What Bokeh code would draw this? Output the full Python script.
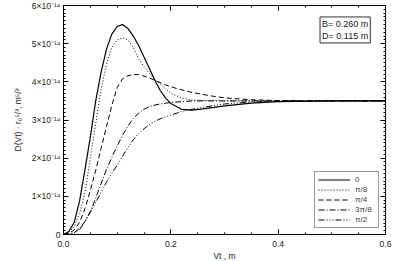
from bokeh.plotting import figure
from bokeh.models import (Range1d, FixedTicker, LinearAxis, NumeralTickFormatter,
                          Label, Legend, CustomLabelingPolicy)
from bokeh.embed import file_html
from bokeh.resources import INLINE

# Data (D values in units of 1e-14 m^(5/3))
vt = [0.00, 0.01, 0.02, 0.03, 0.04, 0.05, 0.06, 0.07, 0.08, 0.09, 0.10,
      0.11, 0.12, 0.13, 0.14, 0.15, 0.16, 0.17, 0.18, 0.19, 0.20,
      0.22, 0.24, 0.26, 0.28, 0.30, 0.35, 0.40, 0.50, 0.60]
d_0 = [0.00, 0.08, 0.32, 0.88, 1.70, 2.55, 3.50, 4.25, 4.85, 5.25, 5.45,
       5.50, 5.40, 5.20, 4.95, 4.65, 4.35, 4.05, 3.78, 3.58, 3.43,
       3.28, 3.26, 3.29, 3.33, 3.37, 3.44, 3.48, 3.50, 3.50]
d_pi8 = [0.00, 0.05, 0.22, 0.55, 1.10, 2.00, 2.90, 3.80, 4.45, 4.90, 5.10,
         5.15, 5.10, 4.90, 4.60, 4.40, 4.22, 4.07, 3.95, 3.82, 3.70,
         3.58, 3.52, 3.51, 3.51, 3.50, 3.50, 3.50, 3.50, 3.50]
d_pi4 = [0.00, 0.03, 0.12, 0.32, 0.68, 1.15, 1.68, 2.25, 2.82, 3.38, 3.85,
         4.08, 4.16, 4.19, 4.19, 4.15, 4.10, 4.04, 3.98, 3.92, 3.87,
         3.79, 3.72, 3.67, 3.62, 3.58, 3.53, 3.51, 3.50, 3.50]
d_3pi8 = [0.00, 0.01, 0.05, 0.16, 0.34, 0.60, 0.95, 1.33, 1.70, 2.02, 2.32,
          2.60, 2.84, 3.04, 3.18, 3.28, 3.35, 3.39, 3.42, 3.44, 3.46,
          3.48, 3.50, 3.50, 3.50, 3.50, 3.50, 3.50, 3.50, 3.50]
d_pi2 = [0.00, 0.00, 0.04, 0.13, 0.33, 0.58, 0.84, 1.10, 1.37, 1.60, 1.82,
         2.05, 2.28, 2.48, 2.65, 2.77, 2.88, 2.96, 3.03, 3.08, 3.13,
         3.22, 3.28, 3.33, 3.38, 3.42, 3.47, 3.49, 3.50, 3.50]

series_labels = ["0", "π/8", "π/4", "3π/8", "π/2"]
x_ticks = [0.0, 0.2, 0.4, 0.6]
y_ticks = [0, 1, 2, 3, 4, 5, 6]
y_tick_labels = ["0", "1×10⁻¹⁴", "2×10⁻¹⁴", "3×10⁻¹⁴", "4×10⁻¹⁴", "5×10⁻¹⁴", "6×10⁻¹⁴"]
info_text = "B= 0.260 m\nD= 0.115 m"

FONT = "Liberation Sans"

p = figure(frame_width=322, frame_height=229, output_backend="svg",
           toolbar_location=None, x_range=Range1d(0, 0.6), y_range=Range1d(0, 6),
           min_border_left=63, min_border_right=25, min_border_top=5,
           min_border_bottom=27)
p.background_fill_color = "white"
p.border_fill_color = "white"
p.outline_line_color = "black"
p.grid.visible = False

styles = [
    dict(line_dash="solid", line_width=1.2),
    dict(line_dash="1 2", line_width=1.0),
    dict(line_dash="5 3", line_width=1.0),
    dict(line_dash="6 2 1 2", line_width=1.0),
    dict(line_dash="6 2 1 2 1 2 1 2", line_width=1.0),
]
renderers = []
for ys, lab, st in zip([d_0, d_pi8, d_pi4, d_3pi8, d_pi2], series_labels, styles):
    r = p.line(vt, ys, line_color="black", **st)
    renderers.append((lab, [r]))

x_minor = [i * 0.05 for i in range(13)]
y_minor = [i * 0.1 for i in range(61)]
xt = FixedTicker(ticks=x_ticks, minor_ticks=x_minor)
yt = FixedTicker(ticks=y_ticks, minor_ticks=y_minor)

def style_axis(ax, label_size="8.5px"):
    ax.axis_line_color = "black"
    ax.major_tick_line_color = "black"
    ax.minor_tick_line_color = "black"
    ax.major_tick_in = 5
    ax.major_tick_out = 0
    ax.minor_tick_in = 2
    ax.minor_tick_out = 0
    ax.major_label_text_font = FONT
    ax.major_label_text_font_size = label_size
    ax.major_label_text_color = "#222222"
    ax.axis_label_text_font = FONT
    ax.axis_label_text_font_size = "8.5px"
    ax.axis_label_text_font_style = "normal"
    ax.axis_label_text_color = "#222222"

xa = p.xaxis[0]
xa.ticker = xt
xa.formatter = NumeralTickFormatter(format="0.0")
xa.axis_label = "Vt , m"
style_axis(xa)
xa.major_label_standoff = 6
xa.axis_label_standoff = 1

ya = p.yaxis[0]
ya.ticker = yt
ya.major_label_overrides = {t: l for t, l in zip(y_ticks, y_tick_labels)}
ya.axis_label = "D(Vt) · r₀⁵/³, m⁵/³"
style_axis(ya)
ya.major_label_standoff = 3
ya.axis_label_standoff = 6

no_labels = "for (const i of indices) { if (false) { yield i } }"
top = LinearAxis(ticker=xt, major_label_standoff=0,
                 major_label_policy=CustomLabelingPolicy(code=no_labels))
style_axis(top, label_size="1px")
p.add_layout(top, "above")
right = LinearAxis(ticker=yt, major_label_standoff=0,
                   major_label_policy=CustomLabelingPolicy(code=no_labels))
style_axis(right, label_size="1px")
p.add_layout(right, "right")

legend = Legend(items=renderers, location="bottom_right")
legend.label_text_font = FONT
legend.label_text_font_size = "8px"
legend.label_height = 9
legend.glyph_height = 9
legend.glyph_width = 32
legend.spacing = 1
legend.padding = 3
legend.margin = 6
legend.border_line_color = "#333333"
legend.border_line_width = 1
legend.background_fill_color = "white"
legend.background_fill_alpha = 1.0
p.add_layout(legend, "center")

info = Label(x=0.478, y=5.7, text=info_text, text_font=FONT, text_font_size="9px",
             text_align="left", text_baseline="top", text_color="#222222",
             border_line_color="#333333", border_line_width=1,
             background_fill_color="white", padding=2)
p.add_layout(info)

open("out.html", "w").write(file_html(p, INLINE))
